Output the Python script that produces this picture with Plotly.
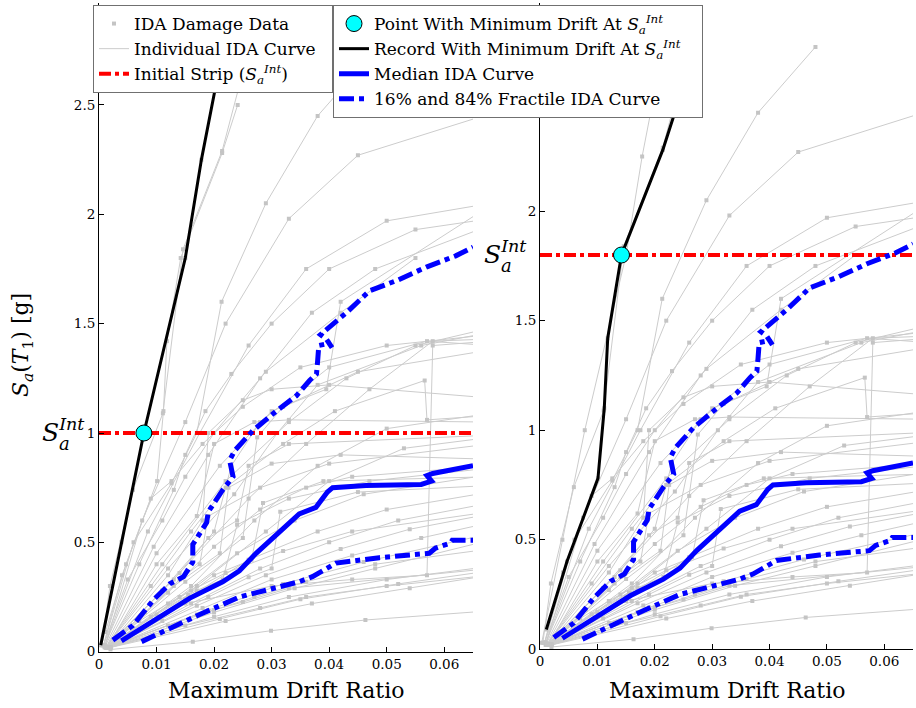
import plotly.graph_objects as go

# ---------------- data ----------------
# individual IDA records: drift ratio (x) and Sa(T1) [g] (y)
record_x = [
    [0.0003, 0.0039, 0.0078, 0.0150, 0.0178, 0.0215],
    [0.0011, 0.0047, 0.0101, 0.0112, 0.0118, 0.0142, 0.0214, 0.0241],
    [0.0005, 0.0019, 0.0059, 0.0111, 0.0146, 0.0214, 0.0260],
    [0.0008, 0.0060, 0.0126, 0.0170, 0.0213, 0.0290, 0.0380, 0.0480],
    [0.0010, 0.0075, 0.0150, 0.0220, 0.0330, 0.0450, 0.0680],
    [0.0010, 0.0085, 0.0175, 0.0260, 0.0360, 0.0500, 0.0680],
    [0.0010, 0.0095, 0.0190, 0.0280, 0.0370, 0.0480, 0.0680],
    [0.0012, 0.0100, 0.0210, 0.0300, 0.0395, 0.0420, 0.0680],
    [0.0012, 0.0110, 0.0220, 0.0330, 0.0430, 0.0550, 0.0680],
    [0.0012, 0.0120, 0.0235, 0.0310, 0.0380, 0.0560, 0.0680],
    [0.0013, 0.0140, 0.0260, 0.0360, 0.0470, 0.0580, 0.0680],
    [0.0013, 0.0130, 0.0200, 0.0230, 0.0280, 0.0400, 0.0570, 0.0680],
    [0.0014, 0.0150, 0.0250, 0.0275, 0.0320, 0.0450, 0.0680],
    [0.0015, 0.0160, 0.0270, 0.0380, 0.0500, 0.0680],
    [0.0015, 0.0170, 0.0290, 0.0400, 0.0530, 0.0680],
    [0.0016, 0.0150, 0.0300, 0.0440, 0.0570, 0.0580, 0.0680],
    [0.0014, 0.0120, 0.0180, 0.0190, 0.0250, 0.0300, 0.0400, 0.0680],
    [0.0014, 0.0100, 0.0170, 0.0200, 0.0270, 0.0330, 0.0680],
    [0.0016, 0.0140, 0.0240, 0.0340, 0.0460, 0.0680],
    [0.0016, 0.0150, 0.0260, 0.0380, 0.0500, 0.0680],
    [0.0017, 0.0160, 0.0280, 0.0400, 0.0520, 0.0680],
    [0.0017, 0.0170, 0.0290, 0.0420, 0.0540, 0.0680],
    [0.0018, 0.0180, 0.0300, 0.0440, 0.0560, 0.0680],
    [0.0018, 0.0190, 0.0320, 0.0460, 0.0680],
    [0.0019, 0.0200, 0.0340, 0.0480, 0.0680],
    [0.0015, 0.0120, 0.0200, 0.0280, 0.0360, 0.0440, 0.0680],
    [0.0015, 0.0110, 0.0190, 0.0240, 0.0260, 0.0330, 0.0680],
    [0.0014, 0.0130, 0.0210, 0.0225, 0.0300, 0.0420, 0.0680],
    [0.0020, 0.0200, 0.0330, 0.0500, 0.0680],
    [0.0020, 0.0210, 0.0350, 0.0520, 0.0680],
    [0.0021, 0.0220, 0.0370, 0.0540, 0.0680],
    [0.0020, 0.0163, 0.0299, 0.0463, 0.0680],
    [0.0019, 0.0150, 0.0280, 0.0360, 0.0500, 0.0680],
    [0.0018, 0.0170, 0.0250, 0.0330, 0.0680],
    [0.0008, 0.0040, 0.0090, 0.0126, 0.0180, 0.0250, 0.0350, 0.0500, 0.0680],
    [0.0008, 0.0050, 0.0110, 0.0150, 0.0200, 0.0290, 0.0420, 0.0550],
    [0.0010, 0.0070, 0.0130, 0.0150, 0.0185, 0.0230, 0.0300, 0.0400, 0.0550, 0.0680],
    [0.0012, 0.0090, 0.0160, 0.0220, 0.0320, 0.0410, 0.0566, 0.0570, 0.0680],
    [0.0012, 0.0080, 0.0140, 0.0175, 0.0190, 0.0280, 0.0400, 0.0680],
    [0.0014, 0.0100, 0.0170, 0.0215, 0.0240, 0.0330, 0.0470, 0.0680],
    [0.0015, 0.0090, 0.0155, 0.0200, 0.0265, 0.0285, 0.0390, 0.0680],
    [0.0016, 0.0110, 0.0190, 0.0260, 0.0300, 0.0315, 0.0450, 0.0680],
    [0.0013, 0.0070, 0.0120, 0.0160, 0.0220, 0.0320, 0.0440, 0.0680],
    [0.0017, 0.0120, 0.0200, 0.0270, 0.0360, 0.0480, 0.0680],
]
record_y = [
    [0.03, 0.50, 1.00, 1.80, 2.25, 2.75],
    [0.09, 0.40, 0.78, 1.10, 1.42, 1.80, 2.28, 2.50],
    [0.03, 0.30, 0.74, 1.09, 1.84, 2.29, 2.75],
    [0.03, 0.50, 0.77, 1.00, 1.60, 2.05, 2.45, 2.75],
    [0.02, 0.60, 1.05, 1.50, 1.98, 2.27, 2.46],
    [0.03, 0.55, 1.00, 1.40, 1.75, 1.97, 2.05],
    [0.02, 0.48, 0.90, 1.25, 1.55, 1.75, 1.95],
    [0.02, 0.45, 0.85, 1.10, 1.20, 1.60, 2.04],
    [0.02, 0.40, 0.78, 1.05, 1.25, 1.40, 1.48],
    [0.02, 0.38, 0.72, 1.00, 1.22, 1.40, 1.46],
    [0.02, 0.36, 0.70, 0.95, 1.20, 1.42, 1.43],
    [0.02, 0.33, 0.55, 0.85, 1.05, 1.30, 1.42, 1.40],
    [0.02, 0.32, 0.52, 0.98, 1.12, 1.28, 1.38],
    [0.02, 0.30, 0.60, 0.85, 1.02, 1.09],
    [0.02, 0.30, 0.55, 0.78, 0.93, 0.98],
    [0.02, 0.22, 0.30, 0.33, 0.35, 1.40, 1.42],
    [0.02, 0.35, 0.60, 1.00, 1.15, 1.20, 1.22, 1.16],
    [0.02, 0.40, 0.62, 0.95, 1.05, 1.06, 1.05],
    [0.02, 0.25, 0.45, 0.60, 0.72, 0.81],
    [0.02, 0.24, 0.42, 0.55, 0.65, 0.73],
    [0.02, 0.22, 0.38, 0.50, 0.60, 0.68],
    [0.02, 0.21, 0.35, 0.47, 0.56, 0.63],
    [0.02, 0.20, 0.33, 0.44, 0.52, 0.59],
    [0.02, 0.19, 0.31, 0.41, 0.54],
    [0.02, 0.18, 0.29, 0.38, 0.51],
    [0.02, 0.27, 0.48, 0.65, 0.75, 0.80, 0.85],
    [0.02, 0.28, 0.52, 0.60, 0.85, 0.95, 0.99],
    [0.02, 0.30, 0.45, 0.75, 0.86, 0.90, 0.88],
    [0.02, 0.16, 0.25, 0.33, 0.39],
    [0.02, 0.15, 0.24, 0.31, 0.37],
    [0.02, 0.14, 0.22, 0.29, 0.35],
    [0.01, 0.046, 0.096, 0.145, 0.187],
    [0.02, 0.12, 0.20, 0.25, 0.30, 0.35],
    [0.02, 0.17, 0.227, 0.29, 0.38],
    [0.03, 0.35, 0.70, 0.78, 0.95, 1.12, 1.30, 1.40, 1.45],
    [0.03, 0.33, 0.60, 0.80, 1.00, 1.28, 1.55, 1.80],
    [0.03, 0.40, 0.74, 0.90, 1.10, 1.27, 1.50, 1.75, 1.93, 1.98],
    [0.02, 0.30, 0.55, 0.75, 0.95, 1.10, 1.24, 1.06, 1.08],
    [0.02, 0.18, 0.33, 0.40, 0.62, 0.75, 0.86, 0.95],
    [0.02, 0.17, 0.28, 0.33, 0.58, 0.70, 0.78, 0.84],
    [0.02, 0.16, 0.26, 0.35, 0.42, 0.68, 0.78, 0.80],
    [0.02, 0.14, 0.25, 0.34, 0.38, 0.64, 0.73, 0.76],
    [0.02, 0.14, 0.22, 0.28, 0.36, 0.46, 0.55, 0.64],
    [0.02, 0.12, 0.19, 0.25, 0.32, 0.40, 0.47],
]

# median and fractile IDA curves
median_x = [0.0039, 0.0100, 0.0158, 0.0215, 0.0244, 0.0273, 0.0302, 0.0331, 0.0348,
            0.0377, 0.0386, 0.0397, 0.0406, 0.0464, 0.0560, 0.0578, 0.0570, 0.0580, 0.0650]
median_y = [0.05, 0.15, 0.245, 0.32, 0.37, 0.45, 0.52, 0.59, 0.63,
            0.66, 0.69, 0.73, 0.75, 0.76, 0.765, 0.78, 0.805, 0.815, 0.85]
p16_x = [0.0074, 0.0152, 0.0175, 0.0244, 0.0302, 0.0348, 0.0371, 0.0412, 0.0487,
         0.0574, 0.0585, 0.0611, 0.0614, 0.0650]
p16_y = [0.046, 0.145, 0.17, 0.25, 0.29, 0.32, 0.343, 0.405, 0.43,
         0.45, 0.474, 0.497, 0.51, 0.51]
p84_x = [0.0024, 0.0059, 0.0094, 0.0123, 0.0147, 0.0163, 0.0163, 0.0187, 0.0190, 0.0215,
         0.0233, 0.0227, 0.0236, 0.0267, 0.0308, 0.0343, 0.0366, 0.0378, 0.0380, 0.0382,
         0.0400, 0.0405, 0.0395, 0.0385, 0.0430, 0.0470, 0.0520, 0.0570, 0.0620, 0.0650]
p84_y = [0.053, 0.12, 0.235, 0.31, 0.343, 0.41, 0.49, 0.59, 0.64, 0.74,
         0.80, 0.875, 0.92, 1.01, 1.10, 1.17, 1.24, 1.27, 1.33, 1.40,
         1.41, 1.39, 1.43, 1.45, 1.55, 1.65, 1.70, 1.76, 1.81, 1.85]

strip_levels = [1.0, 1.8]          # initial strip Sa^Int for left / right panel
min_drift_record = [0, 1]          # record index with minimum drift at the strip
min_drift_point_x = [0.0078, 0.0142]

x_ticks = [0, 0.01, 0.02, 0.03, 0.04, 0.05, 0.06]
x_tick_text = ["0", "0.01", "0.02", "0.03", "0.04", "0.05", "0.06"]
y_ticks = [0, 0.5, 1, 1.5, 2, 2.5]
y_tick_text = ["0", "0.5", "1", "1.5", "2", "2.5"]

# ---------------- figure ----------------
FONT = "DejaVu Serif"
GRAY = "#cccccc"
W, H = 916, 708

fig = go.Figure()

line_x, line_y = [], []
for xs, ys in zip(record_x, record_y):
    line_x += xs + [None]
    line_y += ys + [None]
pts_x = [v for xs in record_x for v in xs]
pts_y = [v for ys in record_y for v in ys]

SA_INT = "<i>S</i><sub><i>a</i></sub><sup><i>Int</i></sup>"
PAD = "&nbsp;"

for p in range(2):
    xa = "x" if p == 0 else "x2"
    ya = "y" if p == 0 else "y2"
    show = p == 0
    fig.add_trace(go.Scatter(x=line_x, y=line_y, mode="lines", xaxis=xa, yaxis=ya,
                             line=dict(color=GRAY, width=1),
                             name="Individual IDA Curve" + PAD * 2, legend="legend",
                             legendrank=2, showlegend=show, hoverinfo="skip"))
    fig.add_trace(go.Scatter(x=pts_x, y=pts_y, mode="markers", xaxis=xa, yaxis=ya,
                             marker=dict(color="#c4c4c4", size=4, symbol="square"),
                             name="IDA Damage Data", legend="legend",
                             legendrank=1, showlegend=show, hoverinfo="skip"))
    fig.add_trace(go.Scatter(x=[0, 0.065], y=[strip_levels[p]] * 2, mode="lines",
                             xaxis=xa, yaxis=ya,
                             line=dict(color="#ff0000", width=4, dash="dashdot"),
                             name="Initial Strip (" + SA_INT + ")",
                             legend="legend", legendrank=3, showlegend=show))
    r = min_drift_record[p]
    fig.add_trace(go.Scatter(x=record_x[r], y=record_y[r], mode="lines",
                             xaxis=xa, yaxis=ya, line=dict(color="black", width=3),
                             name="Record With Minimum Drift At " + SA_INT + PAD * 3,
                             legend="legend2", legendrank=2, showlegend=show))
    fig.add_trace(go.Scatter(x=median_x, y=median_y, mode="lines", xaxis=xa, yaxis=ya,
                             line=dict(color="#0000ff", width=5),
                             name="Median IDA Curve", legend="legend2",
                             legendrank=3, showlegend=show))
    fig.add_trace(go.Scatter(x=p16_x, y=p16_y, mode="lines", xaxis=xa, yaxis=ya,
                             line=dict(color="#0000ff", width=5, dash="dashdot"),
                             name="16% and 84% Fractile IDA Curve", legend="legend2",
                             legendrank=4, showlegend=show))
    fig.add_trace(go.Scatter(x=p84_x, y=p84_y, mode="lines", xaxis=xa, yaxis=ya,
                             line=dict(color="#0000ff", width=5, dash="dashdot"),
                             name="16% and 84% Fractile IDA Curve", legend="legend2",
                             showlegend=False))
    fig.add_trace(go.Scatter(x=[min_drift_point_x[p]], y=[strip_levels[p]], mode="markers",
                             xaxis=xa, yaxis=ya,
                             marker=dict(color="#00ffff", size=16,
                                         line=dict(color="black", width=1)),
                             name="Point With Minimum Drift At " + SA_INT,
                             legend="legend2", legendrank=1, showlegend=show))

axis_common = dict(showgrid=False, zeroline=False, showline=True, linecolor="black",
                   linewidth=1, ticks="inside", ticklen=5, tickcolor="black",
                   automargin=False,
                   tickfont=dict(family=FONT, size=13.5, color="black"))

left_dom = [99 / W, 473 / W]
right_dom = [540 / W, 913 / W]
top = 1 - 3 / H
fig.update_layout(
    width=W, height=H, plot_bgcolor="white", paper_bgcolor="white",
    margin=dict(l=0, r=0, t=0, b=0, autoexpand=False), font=dict(family=FONT, color="black"),
    xaxis=dict(domain=left_dom, range=[0, 0.065], tickvals=x_ticks, ticktext=x_tick_text,
               anchor="y", **axis_common),
    yaxis=dict(domain=[1 - 651.7 / H, top], range=[0, (651.7 - 3) / 218.7],
               tickvals=y_ticks, ticktext=y_tick_text, anchor="x", **axis_common),
    xaxis2=dict(domain=right_dom, range=[0, 0.065], tickvals=x_ticks, ticktext=x_tick_text,
                anchor="y2", **axis_common),
    yaxis2=dict(domain=[1 - 649.2 / H, top], range=[0, (649.2 - 3) / 219.0],
                tickvals=y_ticks, ticktext=y_tick_text, anchor="x2", **axis_common),
    legend=dict(x=93 / W, y=1 - 5 / H, xanchor="left", yanchor="top",
                bgcolor="white", bordercolor="#707070", borderwidth=1,
                font=dict(family=FONT, size=17, color="black"), tracegroupgap=0),
    legend2=dict(x=333 / W, y=1 - 5 / H, xanchor="left", yanchor="top",
                 bgcolor="white", bordercolor="#707070", borderwidth=1,
                 font=dict(family=FONT, size=17, color="black"), tracegroupgap=0),
    showlegend=True,
)

ann = []
for cx in [(99 + 473) / 2 / W, (540 + 913) / 2 / W]:
    ann.append(dict(x=cx, y=1 - 690 / H, xref="paper", yref="paper",
                    text="Maximum Drift Ratio", showarrow=False,
                    font=dict(family=FONT, size=22), xanchor="center", yanchor="middle"))
ann.append(dict(x=22 / W, y=1 - 345 / H, xref="paper", yref="paper", textangle=-90,
                text="<i>S</i><sub><i>a</i></sub>(<i>T</i><sub>1</sub>) [g]", showarrow=False,
                font=dict(family=FONT, size=22), xanchor="center", yanchor="middle"))
# strip labels (S with stacked Int / a)
for p, (ya, sx, ax) in enumerate([("y", 40, 57), ("y2", 482, 499)]):
    ann.append(dict(x=sx / W, y=strip_levels[p], xref="paper", yref=ya,
                    text="<i>S</i><sup><i>Int</i></sup>", showarrow=False,
                    font=dict(family=FONT, size=25), xanchor="left", yanchor="middle",
                    yshift=3))
    ann.append(dict(x=ax / W, y=strip_levels[p], xref="paper", yref=ya,
                    text="<i>a</i>", showarrow=False,
                    font=dict(family=FONT, size=18), xanchor="left", yanchor="middle",
                    yshift=-10))
fig.update_layout(annotations=ann)

fig.write_html("out.html", config={"displayModeBar": False},
               post_script="document.body.style.margin='0px';document.body.style.overflow='hidden';")
